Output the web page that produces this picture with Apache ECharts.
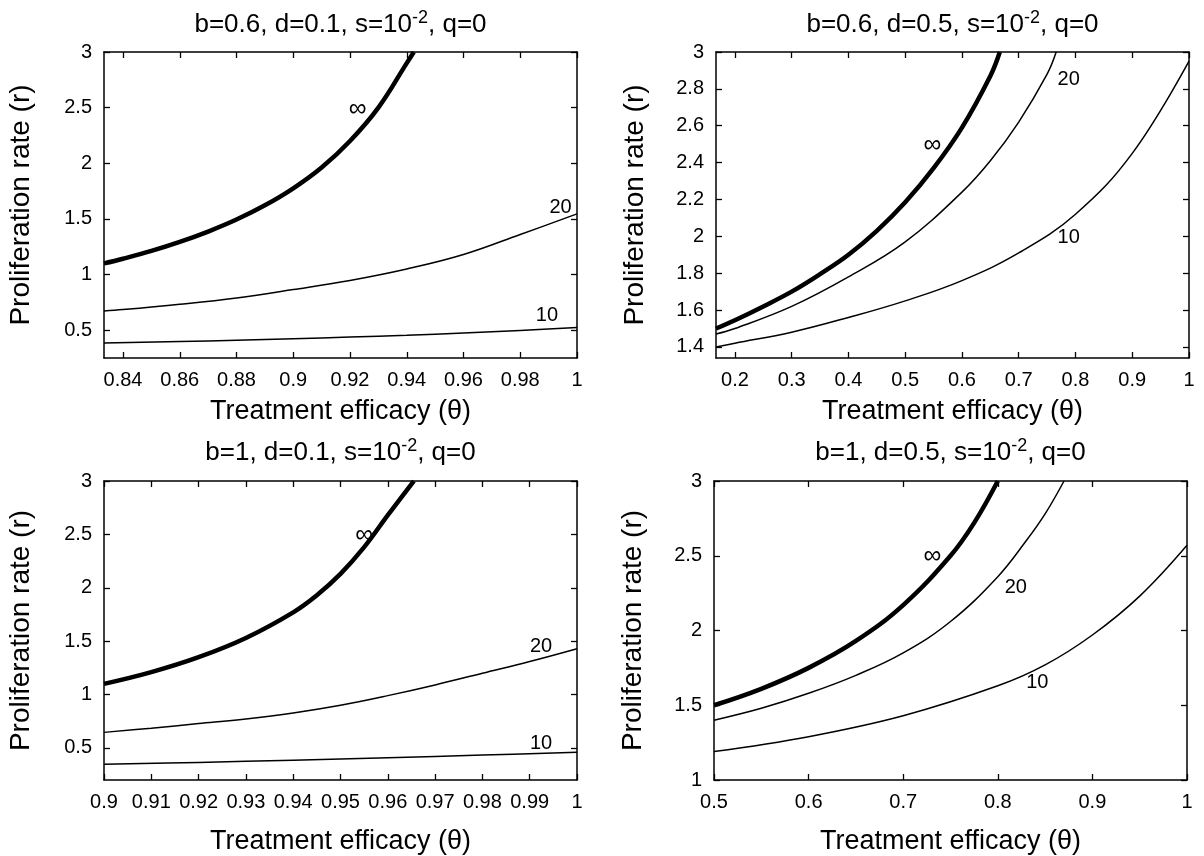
<!DOCTYPE html>
<html>
<head>
<meta charset="utf-8">
<script src="https://cdn.jsdelivr.net/npm/echarts@6/dist/echarts.min.js"></script>
<style>
  html, body { margin: 0; padding: 0; background: #fff; }
  #main { width: 1204px; height: 856px; }
</style>
</head>
<body>
<div id="main"></div>
<script>
// panel 1: b=0.6, d=0.1
var p1ThetaInf = [0.8333, 0.84, 0.85, 0.86, 0.87, 0.88, 0.89, 0.90, 0.91, 0.92, 0.93, 0.94, 0.9425];
var p1RInf = [1.10, 1.142, 1.212, 1.293, 1.386, 1.494, 1.622, 1.775, 1.962, 2.20, 2.50, 2.90, 3.00];
var p1Theta20 = [0.8333, 0.84, 0.86, 0.88, 0.90, 0.92, 0.94, 0.96, 0.98, 1.0];
var p1R20 = [0.673, 0.685, 0.733, 0.79, 0.865, 0.947, 1.05, 1.18, 1.36, 1.545];
var p1Theta10 = [0.8333, 0.86, 0.88, 0.90, 0.92, 0.94, 0.96, 0.98, 1.0];
var p1R10 = [0.385, 0.398, 0.41, 0.423, 0.438, 0.455, 0.475, 0.498, 0.523];
var p1XTicks = [0.84, 0.86, 0.88, 0.9, 0.92, 0.94, 0.96, 0.98, 1];
var p1YTicks = [0.5, 1, 1.5, 2, 2.5, 3];

// panel 2: b=0.6, d=0.5
var p2ThetaInf = [0.1667, 0.2, 0.25, 0.3, 0.35, 0.4, 0.45, 0.5, 0.55, 0.6, 0.65, 0.6667];
var p2RInf = [1.50, 1.545, 1.62, 1.70, 1.795, 1.90, 2.03, 2.185, 2.37, 2.59, 2.87, 3.0];
var p2Theta20 = [0.1667, 0.2, 0.3, 0.4, 0.5, 0.6, 0.65, 0.7, 0.75, 0.766];
var p2R20 = [1.47, 1.50, 1.62, 1.78, 1.97, 2.24, 2.41, 2.62, 2.88, 3.0];
var p2Theta10 = [0.1667, 0.2, 0.3, 0.4, 0.5, 0.6, 0.7, 0.8, 0.9, 1.0];
var p2R10 = [1.40, 1.42, 1.48, 1.56, 1.65, 1.76, 1.91, 2.12, 2.45, 2.95];
var p2XTicks = [0.2, 0.3, 0.4, 0.5, 0.6, 0.7, 0.8, 0.9, 1];
var p2YTicks = [1.4, 1.6, 1.8, 2, 2.2, 2.4, 2.6, 2.8, 3];

// panel 3: b=1, d=0.1
var p3ThetaInf = [0.9, 0.91, 0.92, 0.93, 0.94, 0.945, 0.95, 0.955, 0.96, 0.9655];
var p3RInf = [1.10, 1.21, 1.35, 1.53, 1.77, 1.93, 2.13, 2.38, 2.68, 3.0];
var p3Theta20 = [0.9, 0.91, 0.92, 0.93, 0.94, 0.95, 0.96, 0.97, 0.98, 0.99, 1.0];
var p3R20 = [0.646, 0.685, 0.728, 0.772, 0.828, 0.90, 0.99, 1.09, 1.20, 1.31, 1.43];
var p3Theta10 = [0.9, 0.92, 0.94, 0.96, 0.98, 1.0];
var p3R10 = [0.348, 0.365, 0.385, 0.408, 0.433, 0.46];
var p3XTicks = [0.9, 0.91, 0.92, 0.93, 0.94, 0.95, 0.96, 0.97, 0.98, 0.99, 1];
var p3YTicks = [0.5, 1, 1.5, 2, 2.5, 3];

// panel 4: b=1, d=0.5
var p4ThetaInf = [0.5, 0.55, 0.6, 0.65, 0.7, 0.75, 0.775, 0.8];
var p4RInf = [1.50, 1.61, 1.75, 1.93, 2.17, 2.50, 2.72, 3.0];
var p4Theta20 = [0.5, 0.55, 0.6, 0.65, 0.7, 0.75, 0.8, 0.83, 0.85, 0.87];
var p4R20 = [1.40, 1.48, 1.58, 1.70, 1.85, 2.06, 2.36, 2.60, 2.78, 3.0];
var p4Theta10 = [0.5, 0.6, 0.7, 0.8, 0.85, 0.9, 0.95, 1.0];
var p4R10 = [1.19, 1.29, 1.43, 1.63, 1.77, 1.97, 2.23, 2.57];
var p4XTicks = [0.5, 0.6, 0.7, 0.8, 0.9, 1];
var p4YTicks = [1, 1.5, 2, 2.5, 3];

// curve labels: [theta, r, text]
var p1Labels = [[0.9227, 2.49, '∞'], [0.9942, 1.607, '20'], [0.9894, 0.636, '10']];
var p2Labels = [[0.548, 2.495, '∞'], [0.788, 2.85, '20'], [0.788, 1.995, '10']];
var p3Labels = [[0.955, 2.497, '∞'], [0.9924, 1.45, '20'], [0.9924, 0.539, '10']];
var p4Labels = [[0.731, 2.5, '∞'], [0.819, 2.29, '20'], [0.8417, 1.65, '10']];

var titles = [
    ['b=0.6, d=0.1, s=10', ', q=0'],
    ['b=0.6, d=0.5, s=10', ', q=0'],
    ['b=1, d=0.1, s=10', ', q=0'],
    ['b=1, d=0.5, s=10', ', q=0']
];

var FONT = '"Liberation Sans", Arial, sans-serif';

var panels = [
    {grid: {left: 104, top: 52, width: 473, height: 306}, xMin: 0.8333, xMax: 1, yMin: 0.25, yMax: 3,
     xTicks: p1XTicks, yTicks: p1YTicks, labels: p1Labels, yGap: 69, xGap: 40, titleY: 25,
     curves: [[p1ThetaInf, p1RInf, 4.5], [p1Theta20, p1R20, 1.5], [p1Theta10, p1R10, 1.5]]},
    {grid: {left: 716, top: 52, width: 473, height: 306}, xMin: 0.16667, xMax: 1, yMin: 1.34, yMax: 3,
     xTicks: p2XTicks, yTicks: p2YTicks, labels: p2Labels, yGap: 67, xGap: 40, titleY: 25,
     curves: [[p2ThetaInf, p2RInf, 4.5], [p2Theta20, p2R20, 1.5], [p2Theta10, p2R10, 1.5]]},
    {grid: {left: 104, top: 481, width: 473, height: 306}, xMin: 0.9, xMax: 1, yMin: 0.2, yMax: 3,
     xTicks: p3XTicks, yTicks: p3YTicks, labels: p3Labels, yGap: 69, xGap: 48, titleY: 453,
     curves: [[p3ThetaInf, p3RInf, 4.5], [p3Theta20, p3R20, 1.5], [p3Theta10, p3R10, 1.5]]},
    {grid: {left: 714, top: 481, width: 473, height: 307}, xMin: 0.5, xMax: 1, yMin: 1, yMax: 3,
     xTicks: p4XTicks, yTicks: p4YTicks, labels: p4Labels, yGap: 67, xGap: 48, titleY: 453,
     curves: [[p4ThetaInf, p4RInf, 4.5], [p4Theta20, p4R20, 1.5], [p4Theta10, p4R10, 1.5]]}
];

function zip(a, b) {
    var out = [];
    for (var i = 0; i < a.length; i++) out.push([a[i], b[i]]);
    return out;
}

var grids = [], xAxes = [], yAxes = [], series = [], graphics = [];
var line = {show: true, lineStyle: {color: '#000', width: 1.5}};

panels.forEach(function (p, i) {
    grids.push(p.grid);
    var tickStyle = {show: true, inside: true, length: 6, lineStyle: {color: '#000', width: 1.3}};
    // bottom axis with labels
    xAxes.push({
        type: 'value', gridIndex: i, position: 'bottom', min: p.xMin, max: p.xMax,
        axisLine: line, splitLine: {show: false},
        axisTick: Object.assign({customValues: p.xTicks}, tickStyle),
        axisLabel: {customValues: p.xTicks, color: '#000', fontSize: 20, fontFamily: FONT, margin: 12},
        name: 'Treatment efficacy (θ)', nameLocation: 'middle', nameGap: p.xGap,
        nameTextStyle: {color: '#000', fontSize: 27, fontFamily: FONT}
    });
    // top mirror axis
    xAxes.push({
        type: 'value', gridIndex: i, position: 'top', min: p.xMin, max: p.xMax,
        axisLine: line, splitLine: {show: false},
        axisTick: Object.assign({customValues: p.xTicks}, tickStyle),
        axisLabel: {show: false}
    });
    yAxes.push({
        type: 'value', gridIndex: i, position: 'left', min: p.yMin, max: p.yMax,
        axisLine: line, splitLine: {show: false},
        axisTick: Object.assign({customValues: p.yTicks}, tickStyle),
        axisLabel: {customValues: p.yTicks, color: '#000', fontSize: 20, fontFamily: FONT, margin: 12},
        name: 'Proliferation rate (r)', nameLocation: 'middle', nameGap: p.yGap,
        nameTextStyle: {color: '#000', fontSize: 28, fontFamily: FONT}
    });
    yAxes.push({
        type: 'value', gridIndex: i, position: 'right', min: p.yMin, max: p.yMax,
        axisLine: line, splitLine: {show: false},
        axisTick: Object.assign({customValues: p.yTicks}, tickStyle),
        axisLabel: {show: false}
    });

    p.curves.forEach(function (c) {
        series.push({
            type: 'line', xAxisIndex: i * 2, yAxisIndex: i * 2,
            data: zip(c[0], c[1]), showSymbol: false, symbol: 'none',
            smooth: 0.4, clip: true,
            lineStyle: {color: '#000', width: c[2]}, silent: true
        });
    });

    series.push({
        type: 'scatter', xAxisIndex: i * 2, yAxisIndex: i * 2,
        symbolSize: 0, itemStyle: {color: '#000', opacity: 1}, silent: true,
        data: p.labels.map(function (l) {
            var item = {value: [l[0], l[1]], name: l[2]};
            if (l[2] === '∞') item.label = {fontSize: 25};
            return item;
        }),
        label: {show: true, position: 'inside', formatter: '{b}', color: '#000',
                textBorderWidth: 0, opacity: 1, fontSize: 20, fontFamily: FONT}
    });

    var g = p.grid;
    graphics.push({
        type: 'text', x: g.left + g.width / 2, y: p.titleY,
        style: {
            text: '{n|' + titles[i][0] + '}{s|-2}{n|' + titles[i][1] + '}',
            align: 'center', verticalAlign: 'middle',
            rich: {
                n: {fontSize: 26, fontFamily: FONT, fill: '#000', color: '#000'},
                s: {fontSize: 18, fontFamily: FONT, fill: '#000', color: '#000', padding: [0, 0, 13, 0]}
            }
        }
    });
});

var myChart = echarts.init(document.getElementById('main'));
myChart.setOption({
    backgroundColor: '#fff',
    animation: false,
    grid: grids,
    xAxis: xAxes,
    yAxis: yAxes,
    series: series,
    graphic: graphics
});
</script>
</body>
</html>
